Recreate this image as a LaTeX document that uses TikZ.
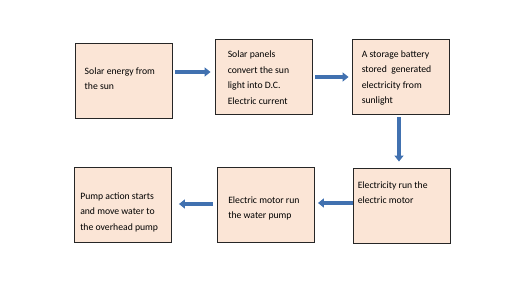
\documentclass[tikz,border=0pt]{standalone}
\usepackage{fontspec}
\setmainfont{Carlito}
\usetikzlibrary{arrows.meta}
\definecolor{peach}{RGB}{251,229,214}
\definecolor{flowblue}{RGB}{65,113,176}
\tikzset{
  stage/.style={draw=black!85, line width=0.9pt, fill=peach, minimum width=97pt, minimum height=75pt, inner sep=0pt},
  stagetext/.style={anchor=north west, align=left, inner sep=0pt, font=\fontsize{9.7}{15.5}\selectfont},
  flow/.style={draw=flowblue, line width=4.5pt, -{Triangle[width=9pt,length=6pt]}}
}
\begin{document}
\begin{tikzpicture}[x=1pt, y=-1pt]
    \useasboundingbox (0,0) rectangle (523,304);
    % the six stages, top row left to right, bottom row right to left
    \node[stage] (sun) at (123.5,80.5) {};
    \node[stage] (panel) at (263.5,76.5) {};
    \node[stage] (battery) at (400.5,76.5) {};
    \node[stage] (motor) at (401.5,205.5) {};
    \node[stage] (pump) at (266,204.5) {};
    \node[stage] (action) at (123,204.5) {};
    % texts
    \node[stagetext] (suntext) at ([shift={(10,25)}]sun.north west) {Solar energy from\\the sun};
    \node[stagetext] (paneltext) at ([shift={(13,12.5)}]panel.north west) {Solar panels\\convert the sun\\light into D.C.\\Electric current};
    \node[stagetext] (batterytext) at ([shift={(10,12)}]battery.north west) {A storage battery\\stored~ generated\\electricity from\\sunlight};
    \node[stagetext] (motortext) at ([shift={(5,14)}]motor.north west) {Electricity run the\\electric motor};
    \node[stagetext] (pumptext) at ([shift={(11,30)}]pump.north west) {Electric motor run\\the water pump};
    \node[stagetext] (actiontext) at ([shift={(6,26)}]action.north west) {Pump action starts\\and move water to\\the overhead pump};
    % arrows
    \draw[flow] ([shift={(3,-8.5)}]sun.east) -- ([shift={(-4,-4.5)}]panel.west);
    \draw[flow] ([shift={(3,0.5)}]panel.east) -- ([shift={(-3,0.5)}]battery.west);
    \draw[flow] ([shift={(-1.5,3)}]battery.south) -- ([shift={(-2.5,-6)}]motor.north);
    \draw[flow] ([shift={(0,-2.5)}]motor.west) -- ([shift={(3,-1.5)}]pump.east);
    \draw[flow] ([shift={(-4,-0.5)}]pump.west) -- ([shift={(7,-0.5)}]action.east);
\end{tikzpicture}
\end{document}
